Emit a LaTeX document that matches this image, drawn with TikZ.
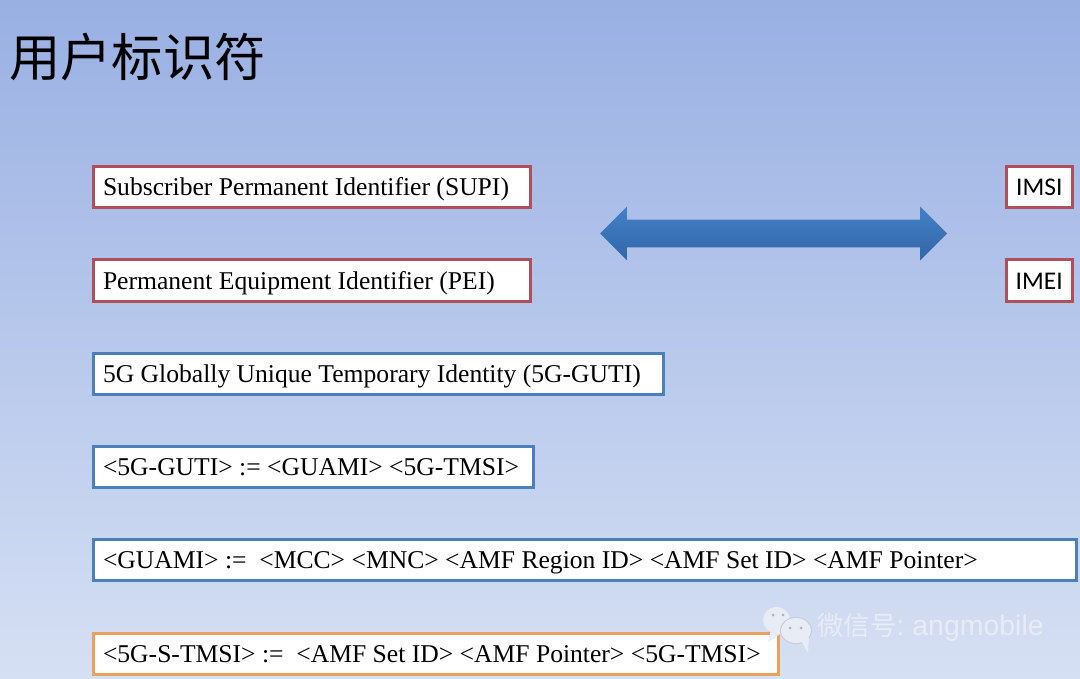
\documentclass[tikz,border=0pt]{standalone}
\usepackage{fontspec}
\setmainfont{Liberation Serif}
\newfontfamily\cjk{Noto Sans CJK SC}
\newfontfamily\lab{Carlito}
\newfontfamily\marklat{Liberation Sans}
\usepackage{tikz}
\usetikzlibrary{positioning,arrows.meta,shapes.geometric,shapes.arrows}
\definecolor{bgtop}{RGB}{153,176,227}
\definecolor{bgbot}{RGB}{214,224,244}
\definecolor{redline}{RGB}{176,78,90}
\definecolor{blueline}{RGB}{76,128,188}
\definecolor{orangeline}{RGB}{236,160,92}
\definecolor{arrtop}{RGB}{68,128,198}
\definecolor{arrbot}{RGB}{50,102,168}
\definecolor{markcol}{RGB}{232,236,244}
\definecolor{markdot}{RGB}{170,178,195}

\begin{document}
\begin{tikzpicture}[
  box/.style={draw, fill=white, line width=0.06cm, anchor=west, outer sep=0pt, inner xsep=0.2cm, inner ysep=0pt,
              minimum height=0.82cm, text height=0.44cm, text depth=0.1cm, align=flush left,
              font=\fontsize{14.57}{16}\selectfont},
  redbox/.style={box, draw=redline},
  bluebox/.style={box, draw=blueline},
  orangebox/.style={box, draw=orangeline},
  idbox/.style={redbox, inner xsep=0pt, minimum width=1.33cm, align=center,
                font=\lab\fontsize{14.5}{16}\selectfont},
  bubble/.style={fill=markcol},
  eye/.style={fill=markdot}
]
  % Slide background
  \shade[top color=bgtop, bottom color=bgbot] (0,0) rectangle (21.6,13.56);
  \useasboundingbox (0,0) rectangle (21.6,13.56);
  \node[font=\cjk\fontsize{29.2}{32}\selectfont, anchor=west, inner sep=0pt] (title) at (0.18,12.42) {用户标识符};
  % Identifier boxes
  \node[redbox, text width=8.35cm]     (supi)  at (1.86,9.81) {Subscriber Permanent Identifier (SUPI)};
  \node[redbox, text width=8.35cm]     (pei)   at (1.86,7.95) {Permanent Equipment Identifier (PEI)};
  \node[bluebox, text width=11.01cm]   (guti)  at (1.86,6.09) {5G Globally Unique Temporary Identity (5G-GUTI)};
  \node[bluebox, text width=8.41cm]    (gutidef) at (1.86,4.23) {<5G-GUTI> := <GUAMI> <5G-TMSI>};
  \node[bluebox, text width=19.26cm]   (guami) at (1.86,2.37) {<GUAMI> :=\ \ <MCC> <MNC> <AMF Region ID> <AMF Set ID> <AMF Pointer>};
  \node[orangebox, text width=13.3cm]  (stmsi) at (1.86,0.49) {<5G-S-TMSI> :=\ \ <AMF Set ID> <AMF Pointer> <5G-TMSI>};
  \node[idbox] (imsi) at (20.12,9.81) {IMSI};
  \node[idbox] (imei) at (20.12,7.95) {IMEI};
  % Double arrow
  \node[double arrow, top color=arrtop, bottom color=arrbot, inner xsep=0pt, inner ysep=0.27cm,
        minimum height=6.94cm, double arrow head extend=0.26cm] (link) at (15.47,8.89) {};
  % Watermark
  \fill[bubble] (15.53,1.16) ellipse (0.27 and 0.26);
  \fill[bubble] (15.42,0.98) -- (15.36,0.72) -- (15.66,0.92) -- cycle;
  \fill[bgbot!80!gray] (15.92,0.95) ellipse (0.32 and 0.27);
  \fill[bubble] (15.92,0.95) ellipse (0.30 and 0.25);
  \fill[bubble] (16.02,0.75) -- (16.16,0.5) -- (16.18,0.82) -- cycle;
  \foreach \ex/\ey in {15.46/1.26, 15.66/1.26, 15.80/1.0, 16.02/1.0}
    \fill[eye] (\ex,\ey) circle (0.03);
  \node[font=\marklat\fontsize{16.2}{18}\selectfont, text=markcol, anchor=west, inner sep=0pt] (mark) at (16.34,1.01)
    {{\cjk\fontsize{15}{18}\selectfont 微信号}:\hspace{-0.05cm} angmobile};
\end{tikzpicture}
\end{document}
